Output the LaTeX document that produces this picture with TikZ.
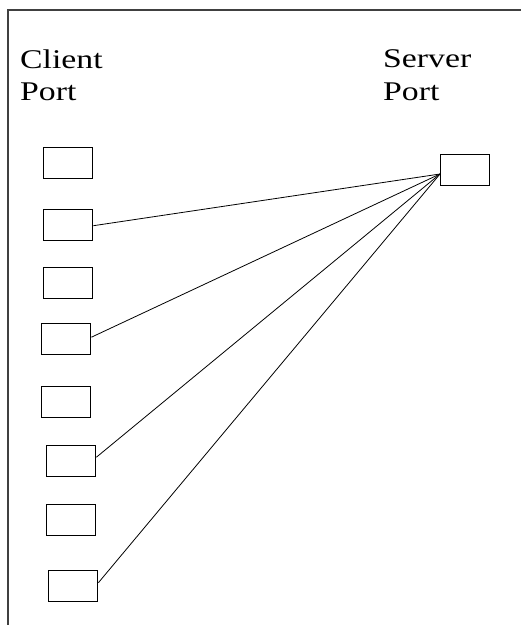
\documentclass[tikz,border=0pt]{standalone}
\usepackage{fontspec}
\setmainfont{Liberation Serif}
\begin{document}
\begin{tikzpicture}[x=1pt,y=-1pt,
  portbox/.style={draw=black, line width=1.4pt, minimum width=49pt, minimum height=31pt, inner sep=0pt, anchor=north west},
  lbl/.style={anchor=base west, inner sep=0pt, font=\fontsize{27}{32}\selectfont},
  link/.style={draw=black, line width=0.8pt}]
\useasboundingbox (0,0) rectangle (521,625);
\draw[line width=2pt, black!75] (8,625) -- (8,10) -- (521,10);
\node[lbl] (cl1) at (20,68) {\scalebox{1.25}[1]{Client}};
\node[lbl] (cl2) at (20,100) {\scalebox{1.25}[1]{Port}};
\node[lbl] (sl1) at (383,67) {\scalebox{1.25}[1]{Server}};
\node[lbl] (sl2) at (383,100) {\scalebox{1.25}[1]{Port}};
\node[portbox] (s) at (440,154) {};
\coordinate (sp) at (440,174);
\node[portbox] (c1) at (43,147) {};
\node[portbox] (c2) at (43,209) {};
\node[portbox] (c3) at (43,267) {};
\node[portbox] (c4) at (41,323) {};
\node[portbox] (c5) at (41,386) {};
\node[portbox] (c6) at (46,445) {};
\node[portbox] (c7) at (46,504) {};
\node[portbox] (c8) at (48,570) {};
\draw[link] ([yshift=-0.5pt]c2.east) -- (sp);
\draw[link] ([yshift=2pt]c4.east) -- (sp);
\draw[link] ([yshift=4pt]c6.east) -- (sp);
\draw[link] ([yshift=3.5pt]c8.east) -- (sp);
\end{tikzpicture}
\end{document}
